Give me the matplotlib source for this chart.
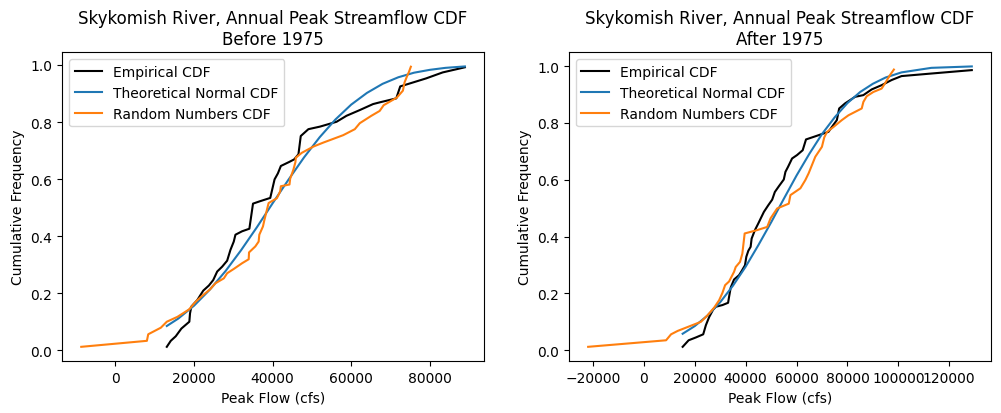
import matplotlib
matplotlib.use('Agg')
import matplotlib.pyplot as plt

# ----------------------------------------------------------------------------------------------------------------------
# data (peak flow in cfs, cumulative frequency)
title_before = 'Skykomish River, Annual Peak Streamflow CDF\nBefore 1975'
title_after = 'Skykomish River, Annual Peak Streamflow CDF\nAfter 1975'

# before 1975 - empirical
emp_before_x = [13080, 14093, 15359, 16794, 18144, 18819, 18988, 19325, 20844, 22363, 23798, 24895, 25908,
                27174, 28440, 29283, 30127, 30549, 32237, 34094, 35022, 36709, 39410, 40507, 41351, 42111,
                44220, 45486, 46583, 47174, 49115, 52069, 56289, 58820, 62195, 65571, 67259, 71478, 72491,
                74854, 79073, 83293, 88947]
emp_before_y = [0.012, 0.033, 0.049, 0.076, 0.092, 0.100, 0.129, 0.153, 0.176, 0.209, 0.227, 0.246, 0.276,
                0.293, 0.314, 0.352, 0.381, 0.405, 0.417, 0.426, 0.514, 0.522, 0.534, 0.599, 0.620, 0.646,
                0.660, 0.669, 0.687, 0.751, 0.775, 0.784, 0.801, 0.822, 0.842, 0.863, 0.869, 0.883, 0.925,
                0.935, 0.953, 0.974, 0.992]

# before 1975 - theoretical normal
norm_before_x = [13080, 16000, 20000, 24000, 28000, 32000, 36000, 40000, 44000, 48000, 52000, 56000, 60000,
                 64000, 68000, 72000, 76000, 80000, 84000, 88947]
norm_before_y = [0.085, 0.111, 0.156, 0.212, 0.277, 0.351, 0.431, 0.515, 0.597, 0.676, 0.747, 0.809, 0.861,
                 0.902, 0.934, 0.957, 0.973, 0.983, 0.990, 0.995]

# before 1975 - random numbers
rnd_before_x = [-8692, 8017, 8355, 11561, 13080, 15781, 18735, 20422, 22110, 24051, 25486, 27596, 28440,
                30127, 32237, 33925, 34009, 35613, 36456, 36625, 37554, 37891, 38988, 41098, 41942, 42111,
                44305, 44474, 45318, 45824, 45900, 47427, 50381, 52913, 57976, 60930, 62195, 65149, 67259,
                68271, 71647, 73166, 73588, 74263, 74685, 75191]
rnd_before_y = [0.012, 0.033, 0.056, 0.079, 0.100, 0.117, 0.143, 0.170, 0.191, 0.213, 0.235, 0.252, 0.270,
                0.285, 0.305, 0.319, 0.343, 0.364, 0.381, 0.405, 0.434, 0.455, 0.516, 0.533, 0.557, 0.575,
                0.581, 0.601, 0.634, 0.660, 0.675, 0.692, 0.714, 0.728, 0.754, 0.775, 0.796, 0.822, 0.839,
                0.859, 0.886, 0.910, 0.939, 0.962, 0.975, 0.994]

# after 1975 - empirical
emp_after_x = [15245, 17591, 20457, 23324, 24366, 25669, 27233, 28275, 30881, 33096, 33487, 34139, 35442,
               37396, 38439, 39742, 40263, 41045, 41957, 42348, 43651, 44954, 45866, 47169, 48863, 50426,
               51469, 53032, 54987, 55638, 56681, 58244, 60199, 62414, 63717, 66714, 69971, 72577, 73880,
               75835, 76747, 79092, 83001, 86259, 89516, 93425, 97334, 101243, 112970, 128867]
emp_after_y = [0.012, 0.035, 0.045, 0.056, 0.088, 0.117, 0.143, 0.153, 0.159, 0.167, 0.188, 0.221, 0.249,
               0.264, 0.279, 0.299, 0.329, 0.350, 0.364, 0.393, 0.423, 0.446, 0.463, 0.487, 0.510, 0.530,
               0.557, 0.577, 0.601, 0.628, 0.646, 0.675, 0.687, 0.704, 0.742, 0.751, 0.761, 0.769, 0.786,
               0.810, 0.851, 0.869, 0.892, 0.898, 0.918, 0.933, 0.951, 0.965, 0.974, 0.986]

# after 1975 - theoretical normal
norm_after_x = [15245, 20000, 25000, 30000, 35000, 40000, 45000, 50000, 55000, 60000, 65000, 70000, 75000,
                80000, 85000, 90000, 95000, 101243, 112970, 128867]
norm_after_y = [0.058, 0.085, 0.122, 0.169, 0.227, 0.294, 0.370, 0.450, 0.533, 0.615, 0.691, 0.761, 0.820,
                0.870, 0.909, 0.938, 0.960, 0.978, 0.994, 0.999]

# after 1975 - random numbers
rnd_after_x = [-21890, 8730, 10685, 13291, 22412, 25018, 27624, 29578, 30881, 31924, 33487, 35442, 36093,
               37787, 38699, 39611, 44563, 48472, 49775, 52381, 56941, 57593, 61502, 63456, 64759, 67365,
               69971, 70883, 71926, 74532, 77789, 80395, 85607, 86259, 87562, 90168, 93425, 94728, 96683,
               98246]
rnd_after_y = [0.012, 0.035, 0.056, 0.068, 0.100, 0.123, 0.150, 0.176, 0.202, 0.229, 0.242, 0.276, 0.293,
               0.311, 0.340, 0.411, 0.423, 0.434, 0.464, 0.499, 0.516, 0.546, 0.570, 0.599, 0.623, 0.681,
               0.716, 0.749, 0.768, 0.786, 0.810, 0.827, 0.851, 0.874, 0.894, 0.909, 0.921, 0.939, 0.968,
               0.988]
# ----------------------------------------------------------------------------------------------------------------------


# ----------------------------------------------------------------------------------------------------------------------
# method to draw one cdf panel
def plot_cdf(ax, emp_x, emp_y, norm_x, norm_y, rnd_x, rnd_y, title):
    ax.plot(emp_x, emp_y, color='k', label='Empirical CDF')
    ax.plot(norm_x, norm_y, color='C0', label='Theoretical Normal CDF')
    ax.plot(rnd_x, rnd_y, color='C1', label='Random Numbers CDF')
    ax.set_title(title)
    ax.set_xlabel('Peak Flow (cfs)')
    ax.set_ylabel('Cumulative Frequency')
    ax.legend(loc='upper left')
# ----------------------------------------------------------------------------------------------------------------------


fig = plt.figure(figsize=(10.01, 4.14), dpi=100)
ax_before = fig.add_axes([0.062, 0.126, 0.4216, 0.745])
ax_after = fig.add_axes([0.5684, 0.126, 0.4216, 0.745])

plot_cdf(ax_before, emp_before_x, emp_before_y, norm_before_x, norm_before_y,
         rnd_before_x, rnd_before_y, title_before)
plot_cdf(ax_after, emp_after_x, emp_after_y, norm_after_x, norm_after_y,
         rnd_after_x, rnd_after_y, title_after)

fig.savefig('out.png', dpi=100)
